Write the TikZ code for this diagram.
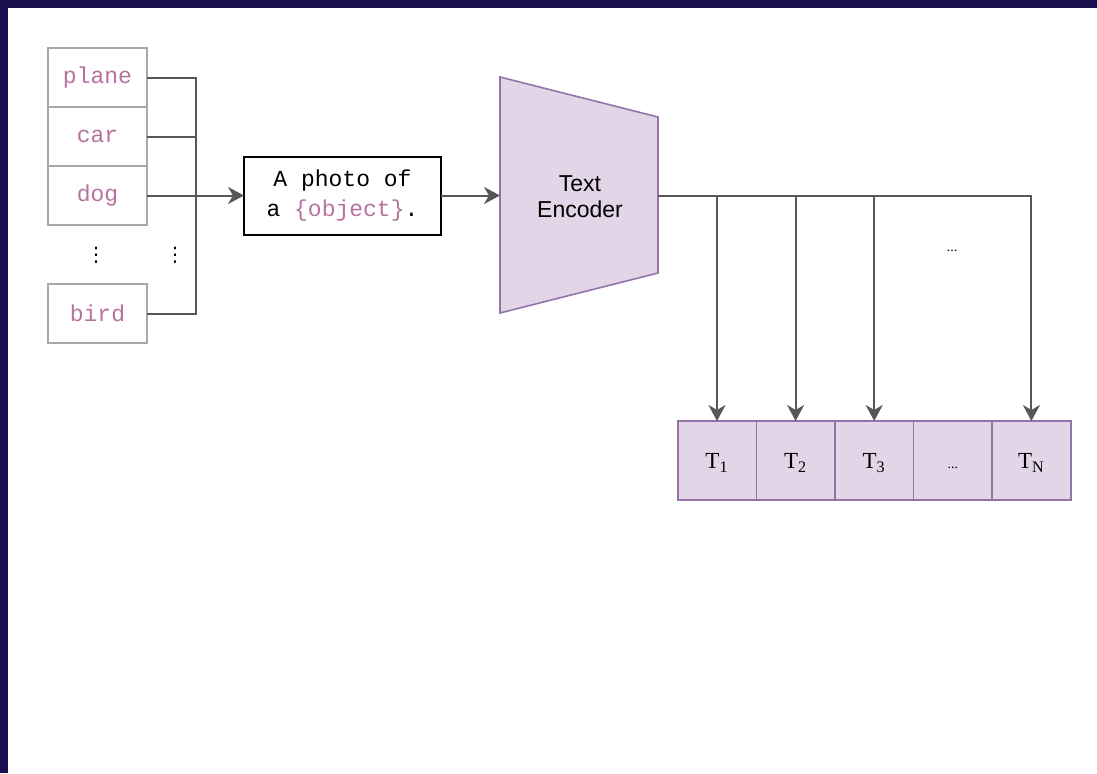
\documentclass[tikz,border=0pt]{standalone}
\usepackage{fontspec}
\setmainfont{Liberation Serif}
\setsansfont{Liberation Sans}
\setmonofont{Liberation Mono}
\newfontfamily\symfont{DejaVu Sans}
\usetikzlibrary{positioning,arrows.meta}

\definecolor{frame}{HTML}{1B0E4E}
\definecolor{wirec}{HTML}{575757}
\definecolor{listc}{HTML}{A8A8A8}
\definecolor{mauve}{HTML}{B5739D}
\definecolor{encfill}{HTML}{E1D5E7}
\definecolor{encdraw}{HTML}{9673A6}

\tikzset{
  cls/.style={draw=listc, line width=1pt, minimum width=49.5pt, minimum height=29.5pt,
    outer sep=0pt, inner sep=0pt, text=mauve, font=\ttfamily\fontsize{11.5}{14}\selectfont},
  promptbox/.style={draw=black, line width=1pt, minimum width=98.5pt, minimum height=39pt,
    outer sep=0pt, align=center, font=\ttfamily\fontsize{11.5}{15}\selectfont},
  tok/.style={draw=encdraw, fill=encfill, line width=0.8pt, minimum width=39.3pt, minimum height=39.5pt,
    outer sep=0pt, inner sep=0pt, text height=8pt, text depth=0pt, font=\fontsize{11.5}{14}\selectfont},
  wire/.style={draw=wirec, line width=1pt},
  arr/.style={wire, -{Stealth[length=8pt,width=8.5pt,inset=2.5pt]}},
  tiny dots/.style={font=\fontsize{7}{8}\selectfont},
  vdots/.style={inner sep=0pt, font=\symfont\fontsize{10}{10}\selectfont},
}

\begin{document}
\begin{tikzpicture}[x=0.5pt, y=-0.5pt]
\useasboundingbox (0,0) rectangle (1097,773);
\fill[frame] (0,0) rectangle (1097,773);
\fill[white] (8,8) rectangle (1097,773);

% class names
\node[cls] (plane) at (97.5,77.5) {plane};
\node[cls, below=0pt of plane] (car) {car};
\node[cls, below=0pt of car] (dog) {dog};
\node[cls] (bird) at (97.5,313.5) {bird};
\node[vdots] (vdl) at (96,255) {⋮};
\node[vdots] (vdr) at (175,255) {⋮};
\coordinate (bus) at (196,195.5);

% prompt template
\node[promptbox] (prompt) at (342.5,195.5) {A photo of\\a {\color{mauve}\{object\}}.};

\draw[wire] (plane.east) -| (bus);
\draw[wire] (bird.east) -| (bus);
\draw[wire] (car.east) -- (car.east -| bus);
\draw[arr] (dog.east) -- (prompt.west);

% text encoder
\filldraw[draw=encdraw, fill=encfill, line width=0.8pt] (500,77) -- (658,117) -- (658,273) -- (500,313) -- cycle;
\node[align=center, font=\sffamily\fontsize{11.5}{13}\selectfont] (enc) at (580,197) {Text\\Encoder};
\coordinate (encin) at (500,195.5);
\coordinate (encout) at (658,195.5);
\draw[arr] (prompt.east) -- (encin);

% text embeddings
\node[tok] (t1) at (717,460.5) {T\textsubscript{1}};
\node[tok, right=0pt of t1] (t2) {T\textsubscript{2}};
\node[tok, right=0pt of t2] (t3) {T\textsubscript{3}};
\node[tok, right=0pt of t3, tiny dots] (tdots) {...};
\node[tok, right=0pt of tdots] (tN) {T\textsubscript{N}};
\node[tiny dots] (gap) at (952,251) {...};

\draw[arr] (encout) -| (tN.north);
\draw[arr] (t1.north |- encout) -- (t1.north);
\draw[arr] (t2.north |- encout) -- (t2.north);
\draw[arr] (t3.north |- encout) -- (t3.north);
\end{tikzpicture}
\end{document}
